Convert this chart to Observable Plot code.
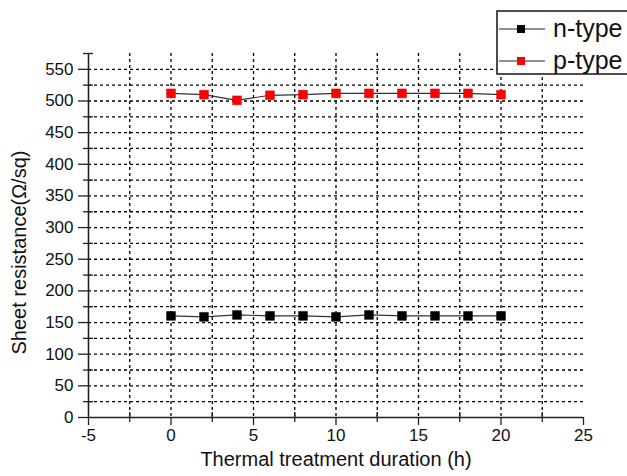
<!DOCTYPE html>
<html>
<head>
<meta charset="utf-8">
<script src="https://cdn.jsdelivr.net/npm/d3@7"></script>
<script src="https://cdn.jsdelivr.net/npm/@observablehq/plot@0.6"></script>
<style>
  body { margin: 0; background: #fff; font-family: "Liberation Sans", Arial, sans-serif; }
  #wrap { position: relative; width: 627px; height: 476px; overflow: hidden; }
  #legend { position: absolute; left: 496px; top: 10px; }
</style>
</head>
<body>
<div id="wrap">
  <div id="chart"></div>
  <svg id="legend" width="140" height="66"></svg>
</div>
<script>
// ---- data ----
const hours = [0, 2, 4, 6, 8, 10, 12, 14, 16, 18, 20];
const nType = [160.5, 159, 162, 160.5, 160.5, 159, 162, 160.5, 160.5, 160.5, 160.5];
const pType = [512, 510, 501, 509, 510, 512, 512, 512, 512, 512, 510];
const seriesNames = ["n-type", "p-type"];
const seriesColors = ["#000000", "#ff0000"];
const xTicks = [-5, 0, 5, 10, 15, 20, 25];
const xMinor = [-2.5, 2.5, 7.5, 12.5, 17.5, 22.5];
const yTicks = [0, 50, 100, 150, 200, 250, 300, 350, 400, 450, 500, 550];
const yMinor = [25, 75, 125, 175, 225, 275, 325, 375, 425, 475, 525, 575];
const yGrid = [25, 50, 75, 100, 125, 150, 175, 200, 225, 250, 275, 300, 325, 350, 375, 400, 425, 450, 475, 500, 525, 550];
const xGrid = [-2.5, 0, 2.5, 5, 7.5, 10, 12.5, 15, 17.5, 20, 22.5];
const xTitle = "Thermal treatment duration (h)";
const yTitle = "Sheet resistance(Ω/sq)";

const nData = hours.map((h, i) => ({h, v: nType[i]}));
const pData = hours.map((h, i) => ({h, v: pType[i]}));

const grid = {stroke: "#000", strokeOpacity: 1, strokeWidth: 1.3, strokeDasharray: "3,3"};
const fmt = d => String(d);

const chart = Plot.plot({
  width: 627,
  height: 476,
  marginLeft: 88,
  marginRight: 44,
  marginTop: 53,
  marginBottom: 59,
  style: {fontFamily: "Liberation Sans, Arial, sans-serif", background: "#fff"},
  x: {domain: [-5, 25]},
  y: {domain: [0, 575]},
  marks: [
    Plot.gridY(yGrid, grid),
    Plot.gridX(xGrid, grid),
    Plot.axisY(yTicks, {tickSize: 10, tickPadding: 5, fontSize: 17, stroke: "#222", strokeWidth: 1.3, color: "#111", label: null, tickFormat: fmt}),
    Plot.axisY(yMinor, {tickSize: 10, dx: 5, text: null, stroke: "#222", strokeWidth: 1.3, label: null}),
    Plot.axisX(xTicks, {tickSize: 8, tickPadding: 3, fontSize: 17, stroke: "#222", strokeWidth: 1.3, color: "#111", label: null, tickFormat: fmt}),
    Plot.axisX(xMinor, {tickSize: 10, dy: -5, text: null, stroke: "#222", strokeWidth: 1.3, label: null}),
    Plot.ruleX([-5], {stroke: "#222", strokeWidth: 1.6}),
    Plot.ruleY([0], {stroke: "#222", strokeWidth: 1.6}),
    Plot.text([xTitle], {frameAnchor: "bottom", dy: 48, fontSize: 20, fill: "#111"}),
    Plot.text([yTitle], {frameAnchor: "left", textAnchor: "middle", dx: -69, dy: 17, rotate: -90, fontSize: 20, fill: "#111"}),
    Plot.line(nData, {x: "h", y: "v", stroke: "#333", strokeWidth: 1.2}),
    Plot.line(pData, {x: "h", y: "v", stroke: "#333", strokeWidth: 1.2}),
    Plot.dot(nData, {x: "h", y: "v", symbol: "square", r: 5, fill: seriesColors[0], stroke: "#000", strokeWidth: 0.5}),
    Plot.dot(pData, {x: "h", y: "v", symbol: "square", r: 5, fill: seriesColors[1], stroke: "#d00", strokeWidth: 0.5})
  ]
});
document.getElementById("chart").appendChild(chart);

// legend
const lg = d3.select("#legend");
lg.append("rect").attr("x", 1).attr("y", 1).attr("width", 160).attr("height", 63)
  .attr("fill", "#fff").attr("stroke", "#222").attr("stroke-width", 1.6);
seriesNames.forEach((name, i) => {
  const cy = 19 + i * 32;
  lg.append("line").attr("x1", 3).attr("x2", 49).attr("y1", cy).attr("y2", cy)
    .attr("stroke", "#222").attr("stroke-width", 1.2);
  lg.append("rect").attr("x", 21).attr("y", cy - 4).attr("width", 8).attr("height", 8)
    .attr("fill", seriesColors[i]);
  lg.append("text").attr("x", 57).attr("y", cy + 8).attr("font-size", 25)
    .attr("font-family", "Liberation Sans, Arial, sans-serif").attr("fill", "#111").text(name);
});
</script>
</body>
</html>
